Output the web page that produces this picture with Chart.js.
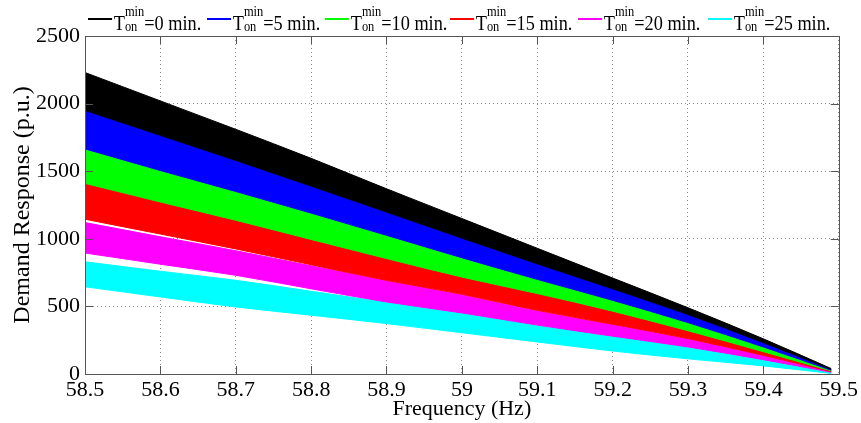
<!DOCTYPE html>
<html>
<head>
<meta charset="utf-8">
<script src="https://cdn.jsdelivr.net/npm/chart.js@4/dist/chart.umd.min.js"></script>
<style>
  body { margin: 0; background: #fff; }
  #wrap { position: relative; width: 861px; height: 423px; }
  #legend .item {
    position: absolute; top: 0; height: 34px;
    display: flex; align-items: flex-end;
    font-family: 'Liberation Serif', serif; font-size: 22px; line-height: 1;
    white-space: nowrap; transform: scaleX(0.83); transform-origin: left top;
  }
  #legend .swatch { width: 29px; height: 2px; align-self: center; margin: 4px 2px 0 0; }
  #legend .stack { display: inline-flex; flex-direction: column; font-size: 15px; line-height: 1; }
</style>
</head>
<body>
<div id="wrap">
  <canvas id="chart" width="861" height="423"></canvas>
  <div id="legend"></div>
</div>
<script>
// frequency samples (Hz)
const freq = [58.5, 58.6, 58.7, 58.8, 58.9, 59.0, 59.1, 59.2, 59.3, 59.4, 59.49];

// envelope of each band of curves (p.u.), upper and lower edge
const ton0Hi  = [2230, 2020, 1810, 1595, 1370, 1150, 930, 710, 490, 260, 40];
const ton0Lo  = [1950, 1765, 1580, 1390, 1198, 1005, 815, 630, 440, 232, 34];
const ton5Hi  = [1950, 1765, 1580, 1390, 1198, 1005, 815, 630, 440, 232, 34];
const ton5Lo  = [1665, 1505, 1350, 1190, 1026, 860, 700, 545, 380, 200, 28];
const ton10Hi = [1665, 1505, 1350, 1190, 1026, 860, 700, 545, 380, 200, 28];
const ton10Lo = [1410, 1272, 1137, 995, 854, 717, 595, 465, 320, 165, 23];
const ton15Hi = [1410, 1272, 1137, 995, 854, 717, 595, 465, 320, 165, 23];
const ton15Lo = [1145, 1035, 925, 808, 693, 590, 471, 368, 262, 138, 18];
const ton20Hi = [1120, 1015, 912, 800, 690, 585, 466, 364, 259, 136, 17];
const ton20Lo = [895, 812, 730, 630, 533, 452, 362, 280, 200, 106, 13];
const ton25Hi = [830, 760, 693, 612, 530, 449, 359, 278, 198, 104, 12];
const ton25Lo = [645, 570, 496, 435, 373, 305, 237, 170, 112, 60, 4];

const tonMinutes = [0, 5, 10, 15, 20, 25];
const bandColors = ['#000000', '#0000ff', '#00ff00', '#ff0000', '#ff00ff', '#00ffff'];
const bandHi = [ton0Hi, ton5Hi, ton10Hi, ton15Hi, ton20Hi, ton25Hi];
const bandLo = [ton0Lo, ton5Lo, ton10Lo, ton15Lo, ton20Lo, ton25Lo];

const xTicks = [58.5, 58.6, 58.7, 58.8, 58.9, 59.0, 59.1, 59.2, 59.3, 59.4, 59.5];
const yTicks = [0, 500, 1000, 1500, 2000, 2500];

const legendLeft = [88, 207, 325, 450, 578, 708];

// HTML legend (sub/superscripts)
const legend = document.getElementById('legend');
tonMinutes.forEach((m, i) => {
  const el = document.createElement('div');
  el.className = 'item';
  el.style.left = legendLeft[i] + 'px';
  el.innerHTML = `
    <span class="swatch" style="background:${bandColors[i]}"></span>
    <span>T</span><span class="stack"><span>min</span><span>on</span></span><span>=${m} min.</span>
  `;
  legend.appendChild(el);
});

const toPoints = arr => arr.map((v, k) => ({ x: freq[k], y: v }));

const datasets = [];
bandHi.forEach((hi, i) => {
  datasets.push({
    data: toPoints(hi), borderColor: bandColors[i], backgroundColor: bandColors[i],
    borderWidth: 1, pointRadius: 0, fill: '+1', cubicInterpolationMode: 'monotone'
  });
  datasets.push({
    data: toPoints(bandLo[i]), borderColor: bandColors[i], backgroundColor: bandColors[i],
    borderWidth: 1, pointRadius: 0, fill: false, cubicInterpolationMode: 'monotone'
  });
});

const serif = 'Liberation Serif';

// box and inward tick marks like the original axes
const boxPlugin = {
  id: 'box',
  afterDatasetsDraw(chart) {
    const { ctx, chartArea: a, scales: { x, y } } = chart;
    ctx.save();
    ctx.strokeStyle = '#555';
    ctx.lineWidth = 1;
    ctx.strokeRect(Math.round(a.left) + 0.5, Math.round(a.top) + 0.5,
                   Math.round(a.right - a.left), Math.round(a.bottom - a.top));
    ctx.beginPath();
    xTicks.forEach(v => {
      const px = Math.round(x.getPixelForValue(v)) + 0.5;
      ctx.moveTo(px, a.bottom); ctx.lineTo(px, a.bottom - 8);
      ctx.moveTo(px, a.top); ctx.lineTo(px, a.top + 8);
    });
    yTicks.forEach(v => {
      const py = Math.round(y.getPixelForValue(v)) + 0.5;
      ctx.moveTo(a.left, py); ctx.lineTo(a.left + 8, py);
      ctx.moveTo(a.right, py); ctx.lineTo(a.right - 8, py);
    });
    ctx.stroke();
    ctx.restore();
  }
};

new Chart(document.getElementById('chart'), {
  type: 'line',
  data: { datasets },
  plugins: [boxPlugin],
  options: {
    responsive: false,
    animation: false,
    devicePixelRatio: 1,
    layout: { padding: { top: 36, right: 21, left: 0, bottom: 0 } },
    plugins: { legend: { display: false }, tooltip: { enabled: false } },
    elements: { line: { borderJoinStyle: 'round' } },
    scales: {
      x: {
        type: 'linear', min: 58.5, max: 59.5,
        afterBuildTicks: s => { s.ticks = xTicks.map(v => ({ value: v })); },
        afterFit: s => { s.height = 49; },
        ticks: {
          color: '#000', padding: 3, maxRotation: 0, autoSkip: false,
          font: { family: serif, size: 22 },
          callback: v => String(Math.round(v * 10) / 10)
        },
        grid: { color: 'rgba(0,0,0,0.45)', drawTicks: false },
        border: { display: false, dash: [1, 3] },
        title: {
          display: true, text: 'Frequency (Hz)', color: '#000',
          font: { family: serif, size: 22 }, padding: { top: 0, bottom: 1 }
        }
      },
      y: {
        min: 0, max: 2500,
        afterBuildTicks: s => { s.ticks = yTicks.map(v => ({ value: v })); },
        afterFit: s => { s.width = 85; },
        ticks: {
          color: '#000', padding: 5, font: { family: serif, size: 22 },
          callback: v => String(v)
        },
        grid: { color: 'rgba(0,0,0,0.45)', drawTicks: false },
        border: { display: false, dash: [1, 3] },
        title: {
          display: true, text: 'Demand Response (p.u.)', color: '#000',
          font: { family: serif, size: 24 }, padding: { top: 8, bottom: 0 }
        }
      }
    }
  }
});
</script>
</body>
</html>
